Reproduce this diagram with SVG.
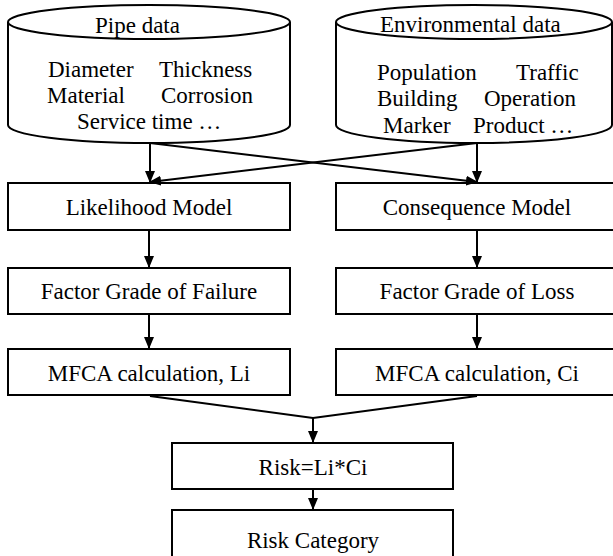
<svg xmlns="http://www.w3.org/2000/svg" width="613" height="556" viewBox="0 0 613 556">
  <style>
    .shape { fill: #fff; stroke: #000; stroke-width: 2; }
    .edge { fill: none; stroke: #000; stroke-width: 2; }
    text { font-family: "Liberation Serif", "Times New Roman", serif; font-size: 23px; fill: #000; }
    .c { text-anchor: middle; }
  </style>
  <defs>
    <marker id="arrow" markerUnits="userSpaceOnUse" markerWidth="12" markerHeight="10" refX="11" refY="5" orient="auto">
      <path d="M0,0 L12,5 L0,10 Z" fill="#000"/>
    </marker>
  </defs>

  <rect width="613" height="556" fill="#fff"/>

  <!-- data sources (cylinders) -->
  <g id="pipe-data">
    <path class="shape" d="M8,22 L8,125 A141,18 0 0 0 290,125 L290,22"/>
    <ellipse class="shape" cx="149" cy="22" rx="141" ry="17"/>
    <text x="95" y="33">Pipe data</text>
    <text x="48" y="77">Diameter</text>
    <text x="159" y="77">Thickness</text>
    <text x="47" y="103">Material</text>
    <text x="161" y="103">Corrosion</text>
    <text x="77" y="129">Service time …</text>
  </g>

  <g id="environmental-data">
    <path class="shape" d="M336,22 L336,125 A138,18 0 0 0 612,125 L612,22"/>
    <ellipse class="shape" cx="474" cy="22" rx="138" ry="17"/>
    <text x="380" y="32">Environmental data</text>
    <text x="377" y="80">Population</text>
    <text x="516" y="80">Traffic</text>
    <text x="377" y="106">Building</text>
    <text x="484" y="106">Operation</text>
    <text x="383" y="133">Marker</text>
    <text x="473" y="133">Product …</text>
  </g>

  <!-- likelihood branch -->
  <g id="likelihood-model">
    <rect class="shape" x="8" y="183" width="282" height="47"/>
    <text class="c" x="149" y="215">Likelihood Model</text>
  </g>
  <g id="factor-failure">
    <rect class="shape" x="8" y="268" width="282" height="46"/>
    <text class="c" x="149" y="299">Factor Grade of Failure</text>
  </g>
  <g id="mfca-li">
    <rect class="shape" x="8" y="349" width="282" height="46"/>
    <text class="c" x="149" y="381">MFCA calculation, Li</text>
  </g>

  <!-- consequence branch -->
  <g id="consequence-model">
    <rect class="shape" x="336" y="183" width="282" height="47"/>
    <text class="c" x="477" y="215">Consequence Model</text>
  </g>
  <g id="factor-loss">
    <rect class="shape" x="336" y="268" width="282" height="46"/>
    <text class="c" x="477" y="299">Factor Grade of Loss</text>
  </g>
  <g id="mfca-ci">
    <rect class="shape" x="336" y="349" width="282" height="46"/>
    <text class="c" x="477" y="381">MFCA calculation, Ci</text>
  </g>

  <!-- result -->
  <g id="risk">
    <rect class="shape" x="172" y="443" width="281" height="46"/>
    <text class="c" x="313" y="475">Risk=Li*Ci</text>
  </g>
  <g id="risk-category">
    <rect class="shape" x="172" y="510" width="281" height="50"/>
    <text class="c" x="313" y="548">Risk Category</text>
  </g>

  <g id="connectors">
    <path class="edge" d="M150,143 L150,182" marker-end="url(#arrow)"/>
    <path class="edge" d="M477,143 L477,182" marker-end="url(#arrow)"/>
    <path class="edge" d="M150,143 L477,182" marker-end="url(#arrow)"/>
    <path class="edge" d="M477,143 L150,182" marker-end="url(#arrow)"/>
    <path class="edge" d="M149,230 L149,267" marker-end="url(#arrow)"/>
    <path class="edge" d="M477,230 L477,267" marker-end="url(#arrow)"/>
    <path class="edge" d="M149,314 L149,348" marker-end="url(#arrow)"/>
    <path class="edge" d="M477,314 L477,348" marker-end="url(#arrow)"/>
    <path class="edge" d="M150,396 L313,418 L477,396"/>
    <path class="edge" d="M313,418 L313,442" marker-end="url(#arrow)"/>
    <path class="edge" d="M313,489 L313,509" marker-end="url(#arrow)"/>
  </g>
</svg>
